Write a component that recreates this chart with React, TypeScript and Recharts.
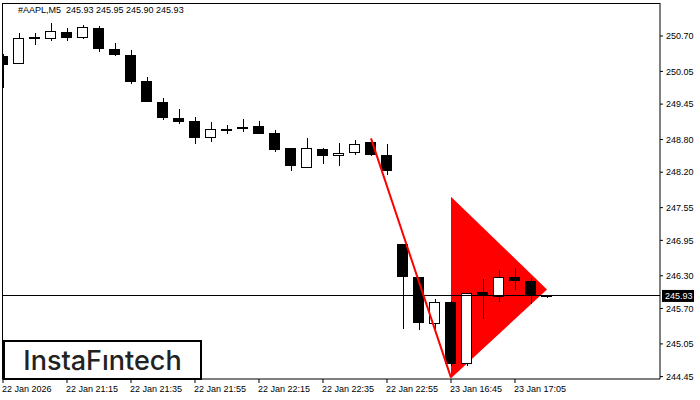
import React from 'react';
import { Area, Bar, ComposedChart, Line, ReferenceLine, XAxis, YAxis } from 'recharts';

// M5 candles, #AAPL, 22 Jan 20:55 .. 23 Jan 17:15 (market gap after 22:55)
const opens = [250.33, 250.18, 250.66, 250.64, 250.77, 250.66, 250.84, 250.46, 250.35, 249.87, 249.49, 249.20, 249.14, 248.82, 248.98, 249.01, 249.05, 248.92, 248.65, 248.28, 248.63, 248.49, 248.56, 248.76, 248.52, 246.88, 246.28, 245.42, 245.82, 244.69, 246.00, 245.91, 246.28, 246.20, 245.93];
const highs = [250.37, 250.75, 250.75, 250.93, 250.84, 250.90, 250.88, 250.57, 250.44, 249.95, 249.56, 249.36, 249.22, 249.12, 249.06, 249.18, 249.14, 248.98, 248.65, 248.82, 248.64, 248.74, 248.79, 248.76, 248.72, 246.88, 246.28, 245.87, 245.84, 245.99, 246.24, 246.40, 246.44, 246.26, 245.95];
const lows = [249.75, 250.18, 250.53, 250.61, 250.61, 250.64, 250.41, 250.33, 249.82, 249.48, 249.16, 249.09, 248.72, 248.76, 248.90, 248.94, 248.91, 248.58, 248.23, 248.27, 248.35, 248.32, 248.52, 248.49, 248.14, 245.32, 245.31, 245.33, 244.65, 244.65, 245.51, 245.82, 246.03, 245.78, 245.90];
const closes = [250.16, 250.66, 250.67, 250.79, 250.66, 250.86, 250.47, 250.36, 249.86, 249.48, 249.20, 249.13, 248.83, 248.99, 248.98, 249.02, 248.91, 248.61, 248.32, 248.64, 248.49, 248.55, 248.72, 248.52, 248.23, 246.28, 245.44, 245.82, 244.69, 245.99, 245.92, 246.27, 246.21, 245.92, 245.93];

// flagpole (trend line) and pennant (triangle) anchor points, by candle index
const poleIdx = [23, 28];
const polePrice = [248.82, 244.43];
const pennantIdx = [28, 34];
const pennantLow = [244.42, 246.05];
const pennantHigh = [247.75, 246.05];

const lastPrice = 245.93;
const header = '#AAPL,M5  245.93 245.95 245.90 245.93';

const xTicks = [0, 4, 8, 12, 16, 20, 24, 28, 32];
const xTickLabels = ['22 Jan 2026', '22 Jan 21:15', '22 Jan 21:35', '22 Jan 21:55', '22 Jan 22:15', '22 Jan 22:35', '22 Jan 22:55', '23 Jan 16:45', '23 Jan 17:05'];
const yTicks = [250.70, 250.05, 249.45, 248.80, 248.20, 247.55, 246.95, 246.30, 245.70, 245.05, 244.45];

const X_MIN = -0.0625;
const X_MAX = 41.0625;
const Y_MIN = 244.406;
const Y_MAX = 251.305;

const FONT = '"Liberation Sans", Arial, sans-serif';

const data = opens.map((open, i) => {
  const p = poleIdx.indexOf(i);
  const t = pennantIdx.indexOf(i);
  return {
    i,
    open,
    high: highs[i],
    low: lows[i],
    close: closes[i],
    pole: p >= 0 ? polePrice[p] : null,
    pennant: t >= 0 ? [pennantLow[t], pennantHigh[t]] : null,
  };
});

function Candle(props: any) {
  const { x, y, width, height, payload } = props;
  const { open, close, high, low } = payload;
  const top = Math.min(y, y + height);
  const h = Math.abs(height);
  const k = high - low > 0 ? h / (high - low) : 0;
  const cx = Math.round(x + width / 2) + 0.5;
  const bTop = Math.round(top + (high - Math.max(open, close)) * k);
  const bBot = Math.round(top + (high - Math.min(open, close)) * k);
  const left = Math.round(x) + 0.5;
  const w = Math.round(width) - 1;
  const bull = close > open;
  return (
    <g shapeRendering="crispEdges">
      <line x1={cx} x2={cx} y1={Math.round(top)} y2={Math.round(top + h)} stroke="#000" />
      {bBot - bTop < 2 ? (
        <rect x={left - 0.5} y={bTop - 1} width={w + 1} height={2} fill="#000" />
      ) : (
        <rect x={left} y={bTop + 0.5} width={w} height={bBot - bTop - 1} fill={bull ? '#fff' : '#000'} stroke="#000" />
      )}
    </g>
  );
}

function XTick(props: any) {
  const { x, y, payload } = props;
  const label = xTickLabels[xTicks.indexOf(payload.value)];
  return (
    <text x={x - 1} y={y} dy={8} textAnchor="start" fontSize={9} fontFamily={FONT} fill="#000">
      {label}
    </text>
  );
}

function PriceTag(props: any) {
  const vb = props.viewBox || {};
  const x = vb.x + vb.width + 2;
  const y = vb.y;
  return (
    <g>
      <rect x={x} y={y - 6} width={32} height={12} fill="#000" />
      <text x={x + 3} y={y} dy="0.355em" fontSize={9} fontFamily={FONT} fill="#fff">
        {lastPrice.toFixed(2)}
      </text>
    </g>
  );
}

export default function App() {
  return (
    <div style={{ position: 'absolute', left: 0, top: 0, width: 700, height: 400, background: '#fff' }}>
      <ComposedChart width={700} height={400} data={data} margin={{ top: 3, right: 0, bottom: 0, left: 2 }}>
        <XAxis
          dataKey="i"
          type="number"
          domain={[X_MIN, X_MAX]}
          allowDataOverflow
          ticks={xTicks}
          interval={0}
          height={21}
          tickSize={4}
          tickMargin={1}
          stroke="#000"
          tick={<XTick />}
        />
        <YAxis
          orientation="right"
          type="number"
          domain={[Y_MIN, Y_MAX]}
          allowDataOverflow
          ticks={yTicks}
          interval={0}
          width={40}
          tickSize={3}
          tickMargin={3}
          stroke="#000"
          tickFormatter={(v: number) => v.toFixed(2)}
          tick={{ fill: '#000', fontSize: 9, fontFamily: FONT }}
        />
        <ReferenceLine y={Y_MAX} stroke="#000" shapeRendering="crispEdges" />
        <ReferenceLine x={X_MIN} stroke="#000" shapeRendering="crispEdges" />
        <Area
          dataKey="pennant"
          type="linear"
          connectNulls
          fill="#ff0000"
          fillOpacity={1}
          stroke="none"
          dot={false}
          activeDot={false}
          isAnimationActive={false}
        />
        <ReferenceLine y={lastPrice} stroke="#000" strokeWidth={1} shapeRendering="crispEdges" label={<PriceTag />} />
        <Bar dataKey={(d: any) => [d.low, d.high]} barSize={11} shape={<Candle />} isAnimationActive={false} />
        <Line
          dataKey="pole"
          type="linear"
          connectNulls
          stroke="#ff0000"
          strokeWidth={2}
          dot={false}
          activeDot={false}
          isAnimationActive={false}
        />
      </ComposedChart>
      <div style={{ position: 'absolute', left: 18, top: 5, fontSize: 9, fontFamily: FONT, color: '#000', whiteSpace: 'pre' }}>
        {header}
      </div>
      <div
        style={{
          position: 'absolute',
          left: 3,
          top: 340,
          width: 199,
          height: 40,
          boxSizing: 'border-box',
          border: '2px solid #000',
          background: '#fff',
          display: 'flex',
          alignItems: 'center',
          justifyContent: 'center',
          fontFamily: 'Inter, "Noto Sans", sans-serif',
          fontWeight: 500,
          fontSize: 27,
          color: '#222',
        }}
      >
        InstaFıntech
      </div>
    </div>
  );
}
